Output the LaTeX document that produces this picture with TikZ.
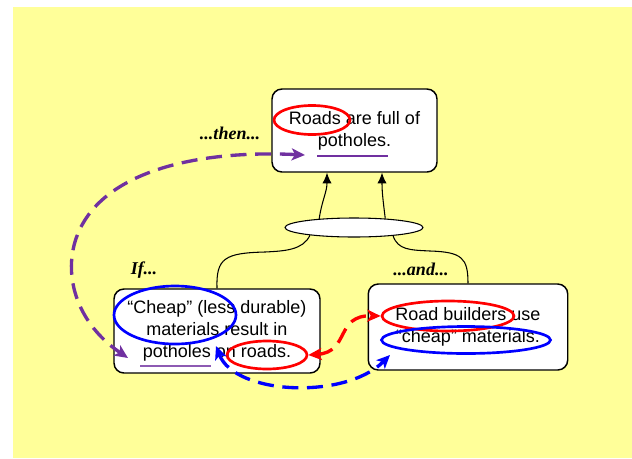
\documentclass[tikz,border=0pt]{standalone}
\usepackage{fontspec}
\setmainfont{Liberation Sans}
\newfontfamily\lblfont{Liberation Serif}
\usetikzlibrary{arrows.meta,shapes.geometric,calc}
\definecolor{bgyellow}{HTML}{FFFF99}
\definecolor{ppurple}{HTML}{7030A0}
\definecolor{pred}{HTML}{FF0000}
\definecolor{pblue}{HTML}{0000FF}
\begin{document}
\begin{tikzpicture}[x=0.75pt,y=-0.75pt,
  stmt/.style={draw=black, line width=1.1pt, rounded corners=7.5pt, fill=white, align=center,
               font=\fontsize{13.5}{16.5}\selectfont, inner sep=0pt},
  lbl/.style={font=\lblfont\bfseries\itshape\fontsize{13.5}{16}\selectfont, anchor=base, inner sep=0pt},
  ring/.style={ellipse, draw, line width=2pt, inner sep=0pt},
  dasharrow/.style={line width=2.5pt, dash pattern=on 12pt off 6.5pt,
                    {Stealth[length=10pt,width=9pt,inset=2.5pt]}-{Stealth[length=10pt,width=9pt,inset=2.5pt]}},
  link/.style={line width=0.8pt},
  tip/.style={-{Latex[length=8pt,width=7pt]}},
]
\useasboundingbox (0,0) rectangle (632,458);
\fill[bgyellow] (13,7) rectangle (632,458);

% statement boxes
\node[stmt, minimum width=123.75pt, minimum height=62.25pt] (T) at (354.5,130.5) {Roads are full of\\potholes.};
\node[stmt, minimum width=154.5pt, minimum height=63pt] (L) at (217,331) {“Cheap” (less durable)\\materials result in\\potholes on roads.};
\node[stmt, minimum width=149.6pt, minimum height=64.5pt] (R) at (468,327) {Road builders use\\“cheap” materials.};

% AND ellipse
\node[ellipse, draw, fill=white, line width=0.8pt, minimum width=103.5pt, minimum height=14.25pt, inner sep=0pt] (E) at (354,227.5) {};

% connectors
\draw[link,tip] (E.166) .. controls (322,200) and (327,192) .. ($(T.south)+(-27.5,0)$);
\draw[link,tip] (E.16) .. controls (383,200) and (382,192) .. ($(T.south)+(27.5,0)$);
\draw[link] (E.190) .. controls (303,250) and (285,251) .. (265,252) .. controls (225,253) and (216,258) .. (L.north);
\draw[link] (E.348) .. controls (398,250) and (410,250) .. (430,251) .. controls (462,252) and (468,258) .. (R.north);

% labels
\node[lbl] (then) at (230,139) {...then...};
\node[lbl] (if) at (144,274) {If...};
\node[lbl] (and) at (421,275) {...and...};

% highlight rings
\node[ring, pred, minimum width=57pt, minimum height=21.75pt] (rt) at (312,120) {};
\node[ring, pblue, minimum width=91.5pt, minimum height=43.5pt] (bl) at (175,315) {};
\node[ring, pred, minimum width=60pt, minimum height=21pt] (rr) at (267,355) {};
\node[ring, pred, minimum width=99pt, minimum height=22.5pt] (rb) at (448,316) {};
\node[ring, pblue, minimum width=126.75pt, minimum height=20.25pt] (bc) at (466,340) {};

% underlines
\draw[ppurple, line width=2.2pt] (317,156) -- (388,156);
\draw[ppurple!80, line width=1.5pt] (140,366) -- (211,366);

% dashed arrows
\coordinate (pA) at (305,155);
\coordinate (pB) at (128,358);
\draw[dasharrow, ppurple] (pA) .. controls (200,150) and (112,170) .. (82,225) .. controls (60,265) and (72,320) .. (pB);
\draw[dasharrow, pred] (rr.east) .. controls (350,352) and (335,315) .. (rb.west);
\coordinate (bA) at (216,346);
\coordinate (bB) at (390,355);
\draw[dasharrow, pblue] (bA) .. controls (235,395) and (345,400) .. (bB);
\end{tikzpicture}
\end{document}
